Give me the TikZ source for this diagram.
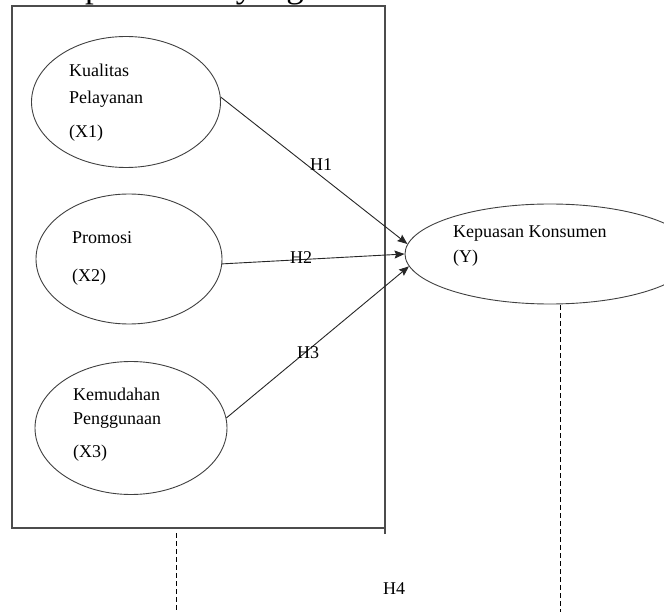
\documentclass[tikz,border=0pt]{standalone}
\usepackage{fontspec}
\setmainfont{Liberation Serif}
\usetikzlibrary{shapes.geometric,arrows.meta}
\begin{document}
\begin{tikzpicture}[x=1pt,y=-1pt,
  ell/.style={ellipse,draw=black!75,line width=0.9pt,inner sep=0pt},
  lbl/.style={anchor=base west,inner sep=0pt,font=\fontsize{18}{22}\selectfont},
  arr/.style={draw=black!85,line width=0.9pt,-{Stealth[length=10pt,width=8pt,inset=1.5pt]}},
  dashline/.style={draw=black,line width=1pt,dash pattern=on 5pt off 3pt},
  frame/.style={draw=black!70,line width=1.6pt}]
\useasboundingbox (0,0) rectangle (664,612);
\begin{scope}
\clip (0,0) rectangle (664,612);
% heading text above the frame, cut by the top edge (only descenders visible)
\node[anchor=base west,inner sep=0pt,font=\fontsize{35}{40}\selectfont] (heading) at (85,-2.5) {pemikiran yang};
% frame
\draw[frame] (385,534) -- (385,6) -- (12,6) -- (12,528) -- (385,528);
% ellipses
\node[ell,minimum width=189pt,minimum height=131pt] (x1) at (126,102) {};
\node[ell,minimum width=186pt,minimum height=130pt] (x2) at (129,259) {};
\node[ell,minimum width=192pt,minimum height=133pt] (x3) at (131,428) {};
\node[ell,minimum width=290pt,minimum height=100pt] (y) at (550,254) {};
% texts
\node[lbl] (x1a) at (69,77) {Kualitas};
\node[lbl] (x1b) at (69,104) {Pelayanan};
\node[lbl] (x1c) at (69,138) {(X1)};
\node[lbl] (x2a) at (72,244) {Promosi};
\node[lbl] (x2b) at (72,282) {(X2)};
\node[lbl] (x3a) at (73,400) {Kemudahan};
\node[lbl] (x3b) at (73,424) {Penggunaan};
\node[lbl] (x3c) at (73,457) {(X3)};
\node[lbl] (ya) at (453,238) {Kepuasan Konsumen};
\node[lbl] (yb) at (453,263) {(Y)};
% arrows
\draw[arr] (x1.3) -- (y.176);
\draw[arr] (x2.-3) -- (y.180);
\draw[arr] (x3.6) -- (y.185);
% hypothesis labels
\node[lbl] (h1) at (310,171) {H1};
\node[lbl] (h2) at (290,264) {H2};
\node[lbl] (h3) at (297,359) {H3};
\node[lbl] (h4) at (383,594) {H4};
% dashed lines
\coordinate (la) at (176,533);
\coordinate (lb) at (176,612);
\coordinate (ra) at (560,305);
\coordinate (rb) at (560,612);
\draw[dashline] (la) -- (lb);
\draw[dashline] (ra) -- (rb);
\end{scope}
\end{tikzpicture}
\end{document}
